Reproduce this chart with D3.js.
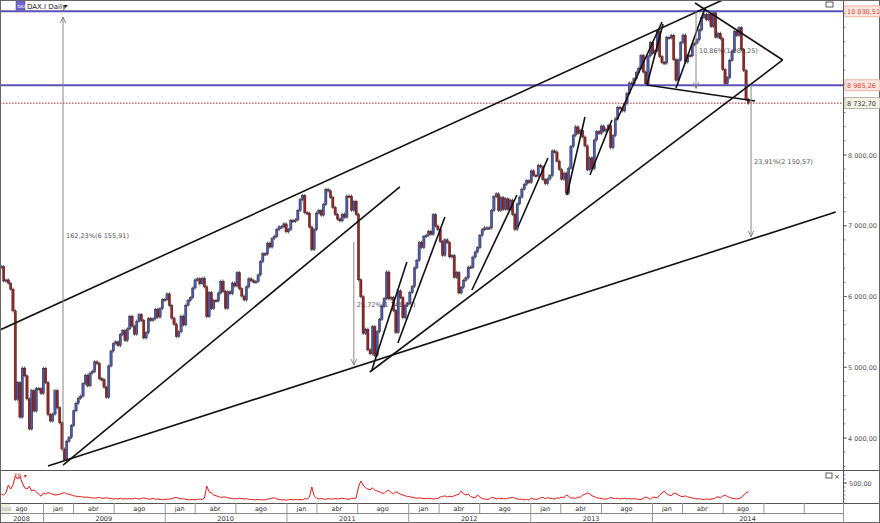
<!DOCTYPE html>
<html><head><meta charset="utf-8">
<script src="https://cdn.jsdelivr.net/npm/d3@7"></script>
<style>body{margin:0;background:#fff}svg{display:block;font-family:"DejaVu Sans",Arial,sans-serif}</style>
</head><body><svg id="c" width="880" height="523"></svg>
<script>
// ---------- DATA ----------
const firstWeek = "2008-08-29"; // weekly (Friday) closes start here
const close2008 = [6422,6220,6234,6189,6104,5797,4544,4782,4295,4988,4879,4553,4127,4669,4381,4700,4696,4629];
const close2009 = [4984,4783,4330,4240,4338, 4668,4428,4215,3844, 3695,3953,4008,4176, 4384,4492,4563,4592, 4769,4887,4737,4918,4941, 5077,5052,4839,4826, 4718,4576,5018,5229,5332, 5359,5309,5462,5518, 5378,5542,5720,5581, 5468,5651,5743,5663,5414, 5488,5687,5663,5685, 5818,5709,5831,5957];
const close2010 = [5957,6037,5875,5695,5608, 5434,5500,5722,5598, 5877,5945,5982,6120, 6235,6250,6180,6259,6136, 5716,6056,5830,5946, 5938,6049,6216,6070, 5835,6066,6040,6190,6148, 6336,6110,6006,5951, 6135,6250,6224,6209, 6211,6305,6492,6605,6601, 6754,6699,6823,6848, 6947,6985,6985,7026,6914];
const close2011 = [6947,7076,7062,7082, 7216,7371,7427,7185, 7178,6982,6664,6946, 7179,7217,7150,7300,7514, 7492,7402,7260,7160, 7095,7069,7164,7121, 7420,7419,7220,7344,7159, 6236,5997,5480,5537, 5246,5190,5574,5164,5502, 5676,5863,5970,6346, 5966,5986,5800,5493, 6080,5986,5701,5878,5898];
const close2012 = [6057,6143,6404,6511, 6766,6692,6849,6864, 6921,6880,7157,6996,6947, 6775,6583,6801,6762, 6561,6579,6271,6339, 6050,6130,6229,6263,6416, 6410,6557,6630,6689, 6865,6945,6970,6971,6970, 7214,7412,7451,7216, 7398,7233,7380,7231, 7363,7163,6950,7309,7405, 7518,7585,7636,7612];
const close2013 = [7776,7715,7702,7855, 7833,7652,7593,7661, 7708,8058,8043,7913,7795, 7658,7745,7459,7814, 8122,8278,8398,8305,8349, 8255,8128,7790,7959, 7806,8212,8331,8303, 8410,8338,8366,8416,8103, 8276,8510,8675,8661, 8623,8724,8870,9017, 9001,9078,9168,9226,9406, 9173,9006,9400,9589];
const close2014 = [9435,9473,9742,9392,9306, 9301,9662,9656,9692, 9350,9056,9342,9587, 9695,9315,9409,9401, 9556,9581,9630,9768,9943, 9987,9912,9987,9815, 10009,9666,9720,9644, 9210,9010,9092,9339,9470, 9747,9691,9799,9490, 9195,8788,8732.70];

const tr2008 = [220,200,250,450,350,450,675,600,650,500,380,350,420,300,330,280,220,170];
const tr2009 = [250,230,260,240,220, 200,210,220,240, 260,230,220,200, 180,170,160,160, 150,140,150,130,130, 120,130,140,120, 120,130,120,110,100, 110,100,120,100, 110,100,110,100, 120,110,100,110,130, 110,100,100,120, 90,100,90,80];
const tr2010 = [100,90,100,110,130, 140,120,100,110, 90,80,80,90, 80,90,100,90,120, 425,280,250,200, 180,160,140,150, 150,130,120,110,110, 100,120,110,100, 110,90,90,80, 80,90,80,80,80, 90,110,120,130, 100,90,80,80,70];
const tr2011 = [80,90,80,90, 80,90,80,110, 100,150,400,180, 120,100,110,100,90, 110,100,100,110, 100,110,120,110, 100,90,120,110,130, 400,550,450,380, 350,330,380,320,300, 280,250,240,300, 320,260,230,280, 250,220,200,180,160];
const tr2012 = [160,140,130,120, 130,120,110,110, 120,110,100,110,110, 150,160,180,150, 170,160,180,200, 220,300,230,200,220, 160,140,130,200, 150,110,100,90,100, 140,130,100,120, 110,110,100,120, 130,140,120,100,90, 100,80,90,70];
const tr2013 = [120,100,90,100, 130,140,110,130, 120,110,100,130,120, 150,130,200,170, 120,130,110,150,140, 200,220,250,230, 180,160,130,120, 110,100,100,110,140, 120,110,120,100, 110,120,100,110, 100,110,100,90,90, 120,150,130,90];
const tr2014 = [150,140,130,200,250, 300,230,200,180, 250,240,200,170, 160,180,150,140, 120,110,100,110,90, 90,100,90,100, 110,130,160,130, 170,200,160,140,120, 110,100,110,140, 200,260,280];

const priceTicks = [4000,5000,6000,7000,8000];
const blueLevels = [10030.51, 8985.26];
const lastLevel = 8732.70;
const trTick = 500;

const trendLines = [
  [["2008-08-25",5527],["2014-08-01",10191]],
  [["2009-03-02",3618],["2011-12-07",7548]],
  [["2009-01-16",3604],["2015-07-06",7194]],
  [["2011-09-08",4933],["2015-01-28",9343]],
  [["2014-05-10",10148],["2015-01-28",9343]],
  [["2013-12-17",8989],["2014-11-06",8763]],
  [["2011-09-14",4961],["2011-12-28",6488]],
  [["2011-12-01",5343],["2012-04-20",7124]],
  [["2012-07-10",6092],["2012-11-22",7435]],
  [["2012-11-25",6982],["2013-02-23",7958]],
  [["2013-04-21",7435],["2013-06-14",8537]],
  [["2013-06-29",7717],["2013-09-03",8495]],
  [["2013-09-18",8495],["2014-01-31",9880]],
  [["2013-12-17",8989],["2014-02-03",9852]],
  [["2014-03-14",8947],["2014-06-09",10078]]
];
const arrows = [
  {date:"2009-03-02", from:3794.6, to:9950.5, label:"162,23%(6 155,91)"},
  {date:"2011-07-22", from:6770, to:5029, label:"25,72%(1 741,23)"},
  {date:"2014-05-13", from:10030.51, to:8941.26, label:"10,86%(1 089,25)"},
  {date:"2014-10-25", from:8994.4, to:6843.83, label:"23,91%(2 150,57)"}
];
const monthCells = [
  ["2008-08-01","2009-01-01","ago"],["2009-01-01","2009-04-01","jan"],["2009-04-01","2009-08-01","abr"],["2009-08-01","2010-01-01","ago"],
  ["2010-01-01","2010-04-01","jan"],["2010-04-01","2010-08-01","abr"],["2010-08-01","2011-01-01","ago"],
  ["2011-01-01","2011-04-01","jan"],["2011-04-01","2011-08-01","abr"],["2011-08-01","2012-01-01","ago"],
  ["2012-01-01","2012-04-01","jan"],["2012-04-01","2012-08-01","abr"],["2012-08-01","2013-01-01","ago"],
  ["2013-01-01","2013-04-01","jan"],["2013-04-01","2013-08-01","abr"],["2013-08-01","2014-01-01","ago"],
  ["2014-01-01","2014-04-01","jan"],["2014-04-01","2014-08-01","abr"],["2014-08-01","2014-12-01","ago"],
  ["2014-12-01","2015-04-01",""],["2015-04-01","2015-08-01",""]
];
const yearCells = [["2008-08-01","2009-01-01","2008"],["2009-01-01","2010-01-01","2009"],["2010-01-01","2011-01-01","2010"],["2011-01-01","2012-01-01","2011"],["2012-01-01","2013-01-01","2012"],["2013-01-01","2014-01-01","2013"],["2014-01-01","2015-08-01","2014"]];

// ---------- BUILD ----------
const P = d3.timeParse("%Y-%m-%d");
const closes = [].concat(close2008,close2009,close2010,close2011,close2012,close2013,close2014);
const trs = [].concat(tr2008,tr2009,tr2010,tr2011,tr2012,tr2013,tr2014);
const d0 = P(firstWeek);
const weeks = closes.map((c,i)=>({date:d3.timeDay.offset(d0,7*i), close:c, open: i? closes[i-1] : c, tr: trs[i]}));

const W=880, H=523, plotR=843, mainB=470, indB=503;
const x = d3.scaleTime().domain([P("2009-01-01"),P("2014-01-01")]).range([43,652]);
const y = d3.scaleLinear().domain([4000,8000]).range([438,155]);
const yTR = d3.scaleLinear().domain([0,500]).range([503,483]);
const loc = d3.formatLocale({decimal:",",thousands:" ",grouping:[3],currency:["",""]});
const fmt = loc.format(",.2f");

const svg = d3.select("#c");
const defs = svg.append("defs");
defs.append("clipPath").attr("id","mainClip").append("rect").attr("x",0).attr("y",1).attr("width",plotR).attr("height",mainB-1);
defs.append("clipPath").attr("id","indClip").append("rect").attr("x",0).attr("y",mainB).attr("width",plotR).attr("height",indB-mainB);
defs.append("marker").attr("id","ah").attr("viewBox","0 0 8 8").attr("refX",7).attr("refY",4)
  .attr("markerWidth",7).attr("markerHeight",7).attr("orient","auto")
  .append("path").attr("d","M0,0.8L7,4L0,7.2").attr("fill","none").attr("stroke","#777").attr("stroke-width",1);

const main = svg.append("g").attr("clip-path","url(#mainClip)");

// annotation labels (behind candles)
main.selectAll("text.al").data(arrows).join("text")
  .attr("x",d=>x(P(d.date))+3).attr("y",d=>y((d.from+d.to)/2)+3)
  .attr("font-size",6.5).attr("fill","#555").text(d=>d.label);

// candles
const bw = 2.3;
const cg = main.append("g");
cg.selectAll("line").data(weeks).join("line")
  .attr("x1",d=>x(d.date)).attr("x2",d=>x(d.date))
  .attr("y1",d=>y(Math.max(d.open,d.close))-1.6).attr("y2",d=>y(Math.min(d.open,d.close))+1.6)
  .attr("stroke","#1a1a1a").attr("stroke-width",0.7);
cg.selectAll("rect").data(weeks).join("rect")
  .attr("x",d=>x(d.date)-bw/2).attr("width",bw)
  .attr("y",d=>y(Math.max(d.open,d.close)))
  .attr("height",d=>Math.max(1.5, Math.abs(y(d.open)-y(d.close))))
  .attr("fill",d=>d.close>=d.open?"#4a5cb0":"#9a2525")
  .attr("stroke","#2a1a1a").attr("stroke-width",0.4);

// levels
main.selectAll("line.bl").data(blueLevels).join("line")
  .attr("x1",0).attr("x2",plotR).attr("y1",d=>y(d)).attr("y2",d=>y(d))
  .attr("stroke","#5a52b8").attr("stroke-width",2);
main.append("line").attr("x1",0).attr("x2",plotR).attr("y1",y(lastLevel)).attr("y2",y(lastLevel))
  .attr("stroke","#b02020").attr("stroke-width",1).attr("stroke-dasharray","1.5,1.5");

// trend lines
main.selectAll("line.tl").data(trendLines).join("line")
  .attr("x1",d=>x(P(d[0][0]))).attr("y1",d=>y(d[0][1]))
  .attr("x2",d=>x(P(d[1][0]))).attr("y2",d=>y(d[1][1]))
  .attr("stroke","#111").attr("stroke-width",1.6);

// arrows
main.selectAll("line.ar").data(arrows).join("line")
  .attr("x1",d=>x(P(d.date))).attr("x2",d=>x(P(d.date)))
  .attr("y1",d=>y(d.from)).attr("y2",d=>y(d.to))
  .attr("stroke","#888").attr("stroke-width",1).attr("marker-end","url(#ah)");

// title
svg.append("rect").attr("x",16).attr("y",1).attr("width",9).attr("height",9).attr("fill","#7466c8").attr("stroke","#4a3f9a").attr("stroke-width",0.5);
svg.append("text").attr("x",17.5).attr("y",8).attr("font-size",4).attr("fill","#fff").text("DAX");
svg.append("text").attr("x",27).attr("y",8.5).attr("font-size",7).attr("fill","#222").text("DAX.I Daily");
svg.append("path").attr("d","M63,5L68,5L65.5,8Z").attr("fill","#222");
svg.append("rect").attr("x",826).attr("y",2).attr("width",7).attr("height",5).attr("fill","none").attr("stroke","#333").attr("stroke-width",0.8);

// indicator
const ind = svg.append("g").attr("clip-path","url(#indClip)");
ind.append("path").datum(weeks).attr("fill","none").attr("stroke","#e01818").attr("stroke-width",1)
  .attr("d",d3.line().x(d=>x(d.date)).y(d=>yTR(d.tr)));
svg.append("text").attr("x",14).attr("y",478).attr("font-size",6).attr("fill","#d02020").text("TR ▾");
svg.append("rect").attr("x",826).attr("y",473).attr("width",6).attr("height",5).attr("fill","none").attr("stroke","#333").attr("stroke-width",0.8);
svg.append("text").attr("x",834).attr("y",478.5).attr("font-size",7).attr("fill","#333").text("×");

// frame lines
const fr = svg.append("g").attr("stroke","#555").attr("stroke-width",1);
fr.append("line").attr("x1",0).attr("x2",W).attr("y1",mainB+0.5).attr("y2",mainB+0.5);
fr.append("line").attr("x1",0).attr("x2",W).attr("y1",indB+0.5).attr("y2",indB+0.5);
fr.append("line").attr("x1",0).attr("x2",plotR).attr("y1",513.5).attr("y2",513.5).attr("stroke","#888");
fr.append("line").attr("x1",plotR+0.5).attr("x2",plotR+0.5).attr("y1",0).attr("y2",H);
svg.append("rect").attr("x",0.5).attr("y",0.5).attr("width",W-1).attr("height",H-1).attr("fill","none").attr("stroke","#666");

// price axis
const ax = svg.append("g");
const minor = d3.range(3600,10201,200);
ax.selectAll("line.mn").data(minor).join("line")
  .attr("x1",plotR).attr("x2",plotR+2.5).attr("y1",d=>y(d)).attr("y2",d=>y(d)).attr("stroke","#555").attr("stroke-width",0.7);
ax.selectAll("line.mj").data(priceTicks).join("line")
  .attr("x1",plotR).attr("x2",plotR+4).attr("y1",d=>y(d)).attr("y2",d=>y(d)).attr("stroke","#555").attr("stroke-width",0.8);
ax.selectAll("text.pt").data(priceTicks).join("text")
  .attr("x",plotR+5).attr("y",d=>y(d)+2.5).attr("font-size",6.5).attr("fill","#555").text(d=>fmt(d));

function tag(v, bg, border, color){
  const g = svg.append("g");
  g.append("rect").attr("x",plotR+2).attr("y",y(v)-5.5).attr("width",35).attr("height",11).attr("fill",bg).attr("stroke",border).attr("stroke-width",0.7);
  g.append("text").attr("x",plotR+4).attr("y",y(v)+2.5).attr("font-size",6.5).attr("fill",color).text(fmt(v));
}
blueLevels.forEach(v=>tag(v,"#fde6df","#e39a8c","#d04535"));
tag(lastLevel,"#f4f2e6","#9a9a8a","#333");

// indicator axis
ax.selectAll("line.tm").data(d3.range(0,801,100)).join("line")
  .attr("x1",plotR).attr("x2",plotR+2.5).attr("y1",d=>yTR(d)).attr("y2",d=>yTR(d)).attr("stroke","#555").attr("stroke-width",0.6)
  .attr("display",d=>yTR(d)<mainB+2?"none":null);
ax.append("line").attr("x1",plotR).attr("x2",plotR+4).attr("y1",yTR(trTick)).attr("y2",yTR(trTick)).attr("stroke","#555");
ax.append("text").attr("x",plotR+6).attr("y",yTR(trTick)+2.5).attr("font-size",6.5).attr("fill","#555").text(fmt(trTick));

// date axis
const dx = d => Math.max(0, Math.min(plotR, x(P(d))));
function row(cells, y0, y1){
  const g = svg.append("g");
  g.selectAll("line").data(cells).join("line")
    .attr("x1",d=>dx(d[1])+0.5).attr("x2",d=>dx(d[1])+0.5).attr("y1",y0).attr("y2",y1).attr("stroke","#999").attr("stroke-width",1);
  g.selectAll("text").data(cells).join("text")
    .attr("x",d=>(dx(d[0])+dx(d[1]))/2).attr("y",y1-2.5).attr("text-anchor","middle")
    .attr("font-size",6.5).attr("fill","#333").text(d=>d[2]);
}
row(monthCells, indB, 513);
row(yearCells, 513, H);
svg.append("rect").attr("x",1).attr("y",504).attr("width",9).attr("height",9).attr("fill","#eef0dc");
svg.append("text").attr("x",1).attr("y",510.5).attr("font-size",5.5).attr("fill","#aaa").text("008");
</script></body></html>
